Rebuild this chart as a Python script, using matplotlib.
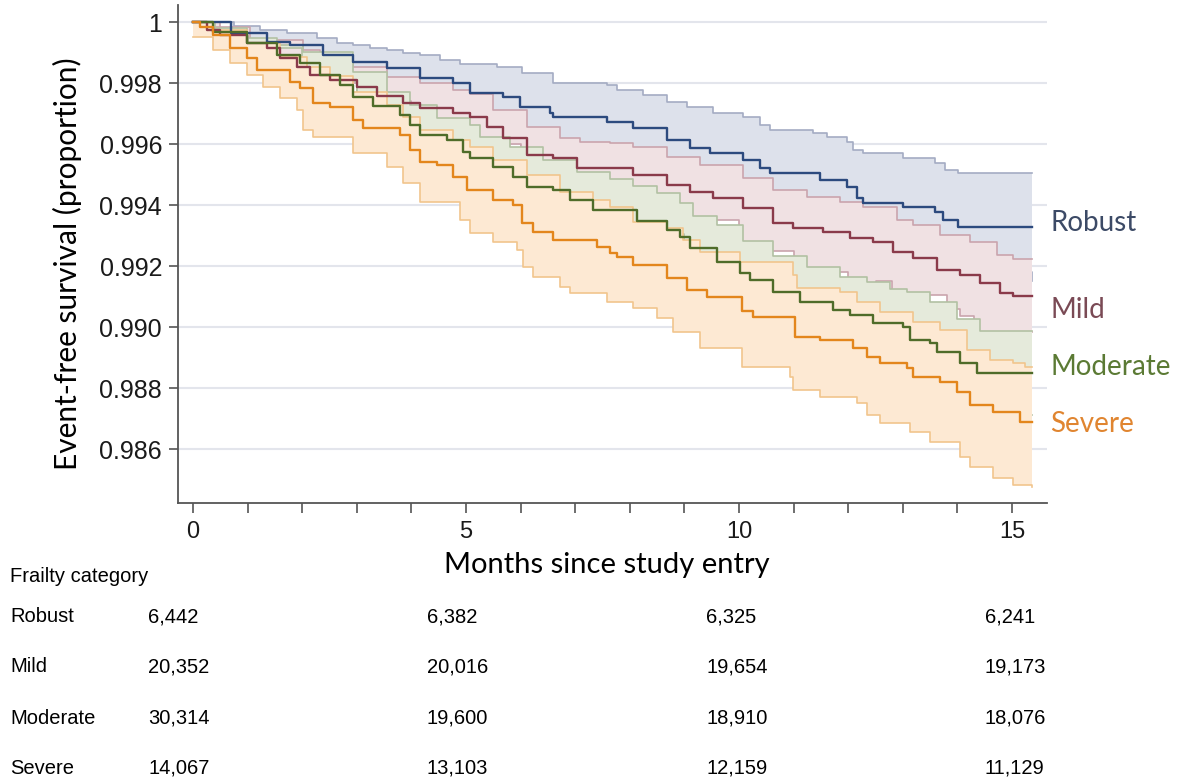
import matplotlib
matplotlib.use("Agg")
import matplotlib.pyplot as plt
import numpy as np

# ---- data (months, event-free survival) ----
robust_t = [0, 0.70, 1.36, 1.78, 2.38, 2.93, 3.55, 4.16, 4.76, 5.07, 5.68, 5.99, 6.54, 6.59, 7.58, 8.06,
            8.68, 9.10, 9.47, 10.07, 10.38, 10.57, 11.48, 11.98, 12.16, 12.27, 13.00, 13.59, 13.74, 14.01, 15.37]
robust_s = [1.0, 0.99964, 0.99934, 0.99925, 0.99892, 0.99869, 0.99849, 0.99816, 0.99800, 0.99767, 0.99754,
            0.99721, 0.99702, 0.99689, 0.99672, 0.99652, 0.99613, 0.99587, 0.99570, 0.99548, 0.99521, 0.99505,
            0.99482, 0.99459, 0.99423, 0.99407, 0.99393, 0.99377, 0.99351, 0.99328, 0.99328]
robust_hi_t = [0, 0.75, 1.23, 1.72, 2.27, 2.64, 2.93, 3.24, 3.55, 3.85, 4.16, 4.52, 4.89, 5.57, 6.03, 6.59,
               7.58, 7.77, 8.24, 8.68, 9.05, 9.52, 10.07, 10.38, 10.57, 11.36, 11.61, 11.98, 12.09, 12.27,
               13.00, 13.59, 13.77, 14.01, 15.37]
robust_hi = [1.0, 0.99987, 0.99974, 0.99964, 0.99948, 0.99931, 0.99925, 0.99915, 0.99908, 0.99898, 0.99892,
             0.99875, 0.99862, 0.99852, 0.99833, 0.99800, 0.99793, 0.99777, 0.99761, 0.99738, 0.99721, 0.99702,
             0.99689, 0.99662, 0.99646, 0.99636, 0.99623, 0.99607, 0.99580, 0.99570, 0.99554, 0.99538, 0.99515,
             0.99505, 0.99505]
robust_lo_t = [0, 0.7, 1.4, 2.4, 3.5, 4.8, 6.0, 8.0, 10.0, 12.0, 14.0, 15.37]
robust_lo = [1.0, 0.9994, 0.9988, 0.9981, 0.9975, 0.9968, 0.9958, 0.9951, 0.9940, 0.9930, 0.9918, 0.99151]

mild_t = [0, 0.26, 0.49, 0.99, 1.36, 1.59, 1.90, 2.14, 2.51, 3.00, 3.37, 3.85, 4.16, 4.76, 5.07, 5.38, 5.68,
          6.12, 6.59, 7.03, 8.06, 8.68, 9.10, 9.52, 10.07, 10.62, 10.99, 11.54, 12.03, 12.45, 12.82, 13.19,
          13.63, 14.05, 14.41, 14.78, 15.02, 15.37]
mild_s = [1.0, 0.99974, 0.99957, 0.99931, 0.99915, 0.99882, 0.99852, 0.99826, 0.99810, 0.99787, 0.99757,
          0.99734, 0.99718, 0.99702, 0.99689, 0.99656, 0.99620, 0.99564, 0.99554, 0.99521, 0.99498, 0.99466,
          0.99443, 0.99423, 0.99390, 0.99341, 0.99325, 0.99311, 0.99292, 0.99279, 0.99246, 0.99226, 0.99187,
          0.99170, 0.99144, 0.99111, 0.99102, 0.99102]
mild_hi_t = [0, 0.37, 1.04, 2.01, 2.33, 2.93, 3.55, 4.16, 4.76, 5.07, 5.49, 6.12, 6.72, 7.09, 7.64, 8.06, 8.68,
             9.29, 10.07, 10.62, 11.25, 11.85, 12.27, 12.89, 13.19, 13.68, 14.23, 14.73, 15.02, 15.37]
mild_hi = [1.0, 0.99984, 0.99941, 0.99908, 0.99875, 0.99852, 0.99820, 0.99800, 0.99777, 0.99764, 0.99711,
           0.99656, 0.99620, 0.99607, 0.99603, 0.99590, 0.99557, 0.99531, 0.99489, 0.99449, 0.99426, 0.99410,
           0.99393, 0.99351, 0.99334, 0.99302, 0.99279, 0.99236, 0.99223, 0.99223]
mild_lo_t = [0, 0.5, 1.0, 2.0, 3.0, 4.0, 5.0, 6.0, 7.0, 8.0, 9.0, 10.0, 11.0, 12.0, 12.5, 12.8, 13.8, 14.05,
             14.3, 14.6, 15.37]
mild_lo = [1.0, 0.99940, 0.99880, 0.99800, 0.99740, 0.99670, 0.99600, 0.99510, 0.99450, 0.99400, 0.99350,
           0.99250, 0.99180, 0.99130, 0.99150, 0.99105, 0.99060, 0.99035, 0.98985, 0.98985, 0.98985]

moderate_t = [0, 0.37, 0.99, 1.54, 1.96, 2.33, 2.69, 2.93, 3.30, 3.79, 3.97, 4.16, 4.65, 4.95, 5.07, 5.49,
              5.86, 6.12, 6.59, 6.90, 7.33, 8.13, 8.68, 8.92, 9.10, 9.60, 10.02, 10.20, 10.62, 11.12, 11.72,
              12.03, 12.45, 13.00, 13.13, 13.50, 13.63, 14.05, 14.36, 15.37]
moderate_s = [1.0, 0.99967, 0.99931, 0.99892, 0.99866, 0.99826, 0.99793, 0.99754, 0.99725, 0.99695, 0.99662,
              0.99630, 0.99613, 0.99574, 0.99554, 0.99525, 0.99492, 0.99459, 0.99449, 0.99416, 0.99384,
              0.99348, 0.99318, 0.99295, 0.99259, 0.99213, 0.99177, 0.99154, 0.99115, 0.99082, 0.99056,
              0.99039, 0.99013, 0.99000, 0.98957, 0.98948, 0.98918, 0.98882, 0.98849, 0.98849]
moderate_hi_t = [0, 0.37, 0.99, 1.54, 2.01, 2.93, 3.55, 3.97, 4.47, 5.07, 5.26, 5.81, 6.41, 7.03, 7.64, 8.06,
                 8.50, 8.92, 9.16, 9.60, 10.07, 10.62, 11.25, 11.85, 12.34, 12.77, 13.08, 13.50, 13.99,
                 14.41, 15.37]
moderate_hi = [1.0, 0.99980, 0.99948, 0.99925, 0.99902, 0.99836, 0.99770, 0.99728, 0.99685, 0.99662, 0.99623,
               0.99590, 0.99548, 0.99508, 0.99485, 0.99462, 0.99439, 0.99407, 0.99364, 0.99334, 0.99282,
               0.99233, 0.99197, 0.99164, 0.99148, 0.99125, 0.99115, 0.99082, 0.99026, 0.98987, 0.98987]
moderate_lo_t = [0, 0.4, 1.0, 2.0, 3.0, 4.0, 5.0, 6.0, 7.0, 8.0, 9.0, 10.0, 11.0, 12.0, 13.0, 14.0, 14.4, 15.37]
moderate_lo = [1.0, 0.99955, 0.99914, 0.99807, 0.99672, 0.99596, 0.99446, 0.99394, 0.99324, 0.99306, 0.99183,
               0.99092, 0.98997, 0.98948, 0.98901, 0.98754, 0.98711, 0.98711]

severe_t = [0, 0.13, 0.37, 0.68, 0.99, 1.17, 1.78, 1.96, 2.20, 2.51, 2.93, 3.11, 3.79, 3.97, 4.16, 4.47, 4.76,
            5.02, 5.49, 5.86, 6.03, 6.23, 6.59, 7.40, 7.64, 7.77, 8.06, 8.68, 9.05, 9.41, 10.05, 10.26, 11.03,
            11.48, 12.09, 12.34, 12.58, 13.08, 13.19, 13.68, 13.99, 14.23, 14.65, 15.15, 15.37]
severe_s = [1.0, 0.99984, 0.99957, 0.99915, 0.99882, 0.99843, 0.99803, 0.99784, 0.99734, 0.99721, 0.99679,
            0.99652, 0.99630, 0.99580, 0.99541, 0.99531, 0.99492, 0.99449, 0.99416, 0.99400, 0.99341, 0.99311,
            0.99285, 0.99262, 0.99243, 0.99230, 0.99203, 0.99161, 0.99121, 0.99098, 0.99052, 0.99033, 0.98967,
            0.98957, 0.98931, 0.98902, 0.98882, 0.98866, 0.98836, 0.98820, 0.98787, 0.98744, 0.98721, 0.98689,
            0.98689]
severe_hi_t = [0, 0.37, 0.99, 1.59, 2.09, 2.51, 2.93, 3.55, 3.85, 4.16, 4.76, 5.07, 5.49, 6.12, 6.72, 7.33,
               7.64, 8.06, 8.68, 8.97, 9.29, 10.02, 10.99, 11.06, 11.85, 12.16, 12.58, 13.19, 13.68, 14.18,
               14.60, 15.02, 15.24, 15.37]
severe_hi = [1.0, 0.99974, 0.99931, 0.99885, 0.99852, 0.99823, 0.99770, 0.99728, 0.99689, 0.99646, 0.99613,
             0.99590, 0.99548, 0.99498, 0.99443, 0.99416, 0.99393, 0.99344, 0.99325, 0.99285, 0.99246, 0.99213,
             0.99170, 0.99128, 0.99115, 0.99082, 0.99049, 0.99016, 0.98990, 0.98925, 0.98892, 0.98882, 0.98869,
             0.98869]
severe_lo_t = [0, 0.37, 0.68, 0.99, 1.28, 1.59, 1.90, 2.01, 2.20, 2.93, 3.55, 3.85, 4.16, 4.89, 5.07, 5.49,
               5.93, 6.04, 6.23, 6.72, 6.90, 7.58, 8.06, 8.50, 8.79, 9.29, 10.05, 10.93, 10.99, 11.48, 12.16,
               12.34, 12.58, 13.13, 13.50, 14.05, 14.23, 14.65, 15.02, 15.37]
severe_lo = [0.99951, 0.99908, 0.99866, 0.99826, 0.99787, 0.99751, 0.99711, 0.99646, 0.99623, 0.99570,
             0.99525, 0.99472, 0.99410, 0.99351, 0.99308, 0.99279, 0.99252, 0.99197, 0.99164, 0.99131, 0.99111,
             0.99082, 0.99062, 0.99030, 0.98984, 0.98931, 0.98869, 0.98836, 0.98793, 0.98770, 0.98751, 0.98711,
             0.98685, 0.98656, 0.98623, 0.98574, 0.98541, 0.98505, 0.98482, 0.98475]

groups = ['Robust', 'Mild', 'Moderate', 'Severe']
line_colors = ['#2c4a7e', '#8a3a4a', '#4f6c29', '#e3861c']
fill_colors = ['#dde1eb', '#f0e1e3', '#e5eadb', '#fde9d3']
edge_colors = ['#a4acc3', '#caa4ad', '#b2c1a3', '#f1c58d']
label_colors = ['#3c4a66', '#7a4a55', '#5b7a34', '#e08530']

y_ticks = [1.0, 0.998, 0.996, 0.994, 0.992, 0.990, 0.988, 0.986]
y_ticklabels = ['1', '0.998', '0.996', '0.994', '0.992', '0.990', '0.988', '0.986']
x_major = [0, 5, 10, 15]

risk_header = 'Frailty category'
risk_rows = {
    'Robust': ['6,442', '6,382', '6,325', '6,241'],
    'Mild': ['20,352', '20,016', '19,654', '19,173'],
    'Moderate': ['30,314', '19,600', '18,910', '18,076'],
    'Severe': ['14,067', '13,103', '12,159', '11,129'],
}

curves = [
    (robust_t, robust_s, robust_hi_t, robust_hi, robust_lo_t, robust_lo),
    (mild_t, mild_s, mild_hi_t, mild_hi, mild_lo_t, mild_lo),
    (moderate_t, moderate_s, moderate_hi_t, moderate_hi, moderate_lo_t, moderate_lo),
    (severe_t, severe_s, severe_hi_t, severe_hi, severe_lo_t, severe_lo),
]


def step_at(t, v, grid):
    idx = np.searchsorted(t, grid, side='right') - 1
    return np.asarray(v)[np.clip(idx, 0, len(v) - 1)]


W, H = 1184, 780
fig = plt.figure(figsize=(W / 100, H / 100), dpi=100)
ax = fig.add_axes([178 / W, 1 - 503 / H, (1047 - 178) / W, (503 - 5) / H])

# confidence bands, drawn in order so each band covers the one before it
for i, (t, s, th, hi, tl, lo) in enumerate(curves):
    grid = np.unique(np.concatenate([th, tl]))
    z = 1 + i * 0.2
    ax.fill_between(grid, step_at(tl, lo, grid), step_at(th, hi, grid), step='post',
                    color=fill_colors[i], lw=0, zorder=z)
    ax.step(th, hi, where='post', color=edge_colors[i], lw=1.2, zorder=z + 0.1)
    ax.step(tl, lo, where='post', color=edge_colors[i], lw=1.2, zorder=z + 0.1)

# survival curves
for i, (t, s, th, hi, tl, lo) in enumerate(curves):
    ax.step(t, s, where='post', color=line_colors[i], lw=1.7, zorder=5)

ax.set_xlim(-0.275, 15.64)
ax.set_ylim(0.98423, 1.00056)
ax.set_yticks(y_ticks)
ax.set_yticklabels(y_ticklabels)
ax.set_xticks(x_major)
ax.set_xticks(np.arange(0, 16), minor=True)
ax.grid(axis='y', color='#e3e5ec', lw=1.5, zorder=0)
ax.set_axisbelow(True)

for sp in ['top', 'right']:
    ax.spines[sp].set_visible(False)
for sp in ['left', 'bottom']:
    ax.spines[sp].set_color('#555555')
    ax.spines[sp].set_linewidth(1.3)

ax.tick_params(axis='y', length=6.5, width=1.2, color='#555555', pad=5,
               labelsize=18, labelcolor='#1a1a1a')
ax.tick_params(axis='x', which='both', length=7, width=1.2, color='#555555', pad=6,
               labelsize=17, labelcolor='#1a1a1a')
for lab in ax.get_xticklabels() + ax.get_yticklabels():
    lab.set_family(['Liberation Sans', 'DejaVu Sans'])

ax.set_ylabel('Event-free survival (proportion)', fontsize=21.5, family='Lato')
ax.yaxis.set_label_coords(-0.110, 0.481)
ax.set_xlabel('Months since study entry', fontsize=21, family='Lato')
ax.xaxis.set_label_coords(0.494, -0.098)

label_y = [0.99341, 0.99056, 0.98869, 0.98682]
for name, ly, c in zip(groups, label_y, label_colors):
    ax.text(15.70, ly, name, color=c, fontsize=20, family='Lato', va='center', ha='left', clip_on=False)

# number-at-risk table
narrow = ['Liberation Sans Narrow', 'Liberation Sans']
col_x = [148, 427, 706, 985]
row_y = [617, 667, 718, 768]
fig.text(10 / W, 1 - 577 / H, risk_header, fontsize=14.5, family=narrow, va='center', ha='left')
for name, py in zip(groups, row_y):
    fig.text(10 / W, 1 - py / H, name, fontsize=14.5, family=narrow, va='center', ha='left')
    for px, val in zip(col_x, risk_rows[name]):
        fig.text(px / W, 1 - py / H, val, fontsize=14.5, family=narrow, va='center', ha='left')

fig.savefig('out.png', dpi=100)
